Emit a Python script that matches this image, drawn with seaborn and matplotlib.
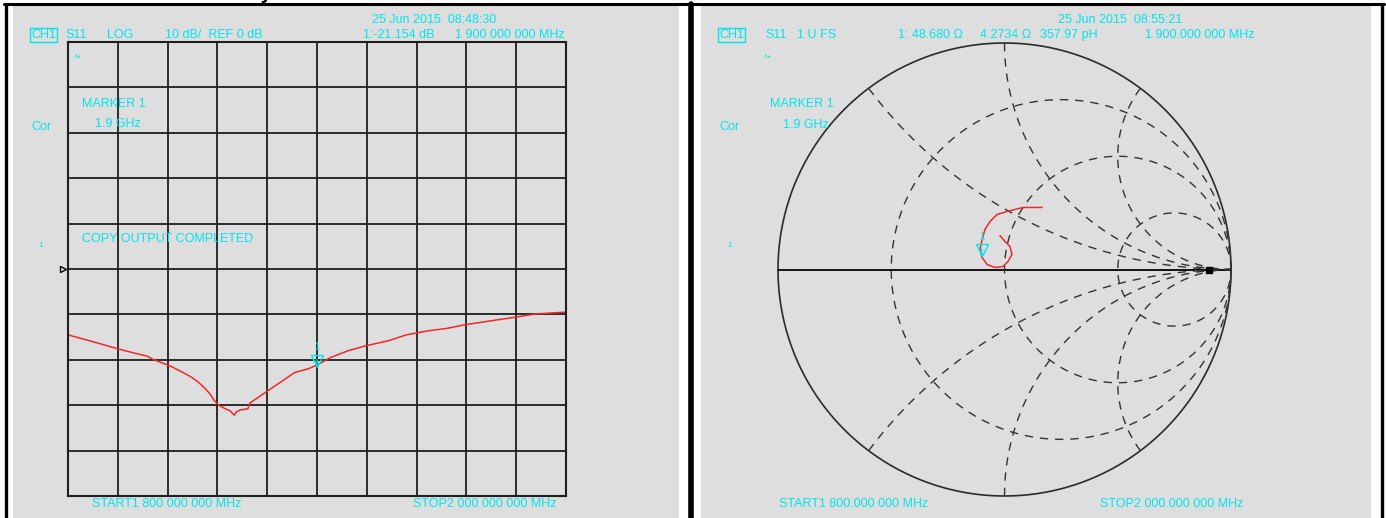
import numpy as np
import pandas as pd
import matplotlib
matplotlib.use("Agg")
import matplotlib.pyplot as plt
import matplotlib.transforms as mtransforms
from matplotlib.patches import Rectangle
from matplotlib.lines import Line2D
import seaborn as sns

# S11 log magnitude, 1.8 - 2.0 GHz
freq_mhz = [1800, 1808.6, 1820.2, 1826.5, 1831.9, 1834.5, 1840.8, 1846.2, 1849.8,
            1852.5, 1855.2, 1857.0, 1858.8, 1860.6, 1863.2, 1865.0, 1866.8, 1867.7,
            1869.5, 1872.2, 1873.1, 1875.8, 1880.3, 1885.7, 1891.0, 1896.4, 1900.0,
            1905.4, 1912.5, 1919.7, 1928.7, 1935.9, 1944.8, 1952.0, 1959.2, 1969.9,
            1979.8, 1987.8, 2000.0]
s11_db = [-14.5, -15.8, -17.6, -18.5, -19.2, -20.0, -21.3, -22.8, -23.9,
          -25.0, -26.4, -27.5, -29.0, -30.0, -30.8, -31.2, -32.2, -31.4,
          -31.0, -30.8, -29.5, -28.5, -26.8, -24.8, -22.8, -22.0, -21.154,
          -19.5, -18.0, -16.9, -15.8, -14.5, -13.6, -13.1, -12.3, -11.4,
          -10.6, -9.9, -9.5]
marker_mhz = 1900.0
marker_db = -21.154

# S11 on the Smith chart (reflection coefficient, real / imag)
gamma_re = [0.166, 0.082, 0.011, -0.033, -0.064, -0.086, -0.099, -0.108, -0.099,
            -0.077, -0.042, -0.007, 0.015, 0.033, 0.024, 0.002, -0.020]
gamma_im = [0.274, 0.274, 0.256, 0.243, 0.212, 0.177, 0.132, 0.088, 0.053,
            0.022, 0.009, 0.013, 0.035, 0.066, 0.102, 0.124, 0.150]
smith_marker = (-0.100, 0.065)
smith_dot = (0.905, 0.0)

# grid values
r_values = [1 / 3, 1, 3]
x_values = [0.5, 1, 2, -0.5, -1, -2]

# ---------------- style ----------------
sns.set_style("white")
plt.rcParams['font.family'] = ['Liberation Sans', 'DejaVu Sans']
CYAN = '#00E5EE'
RED = '#F02828'
GRAY_BG = '#DEDEDE'
GRID = '#1E1E1E'
FS = 9

W, H = 1386, 518
fig = plt.figure(figsize=(W / 100, H / 100), dpi=100)
fig.patch.set_facecolor('white')


def frect(x0, y0, x1, y1):
    """pixel box (top-left origin) -> figure fraction [l, b, w, h]"""
    return [x0 / W, 1 - y1 / H, (x1 - x0) / W, (y1 - y0) / H]


def ftext(x, y, s, size=FS, ha='left', **kw):
    fig.text(x / W, 1 - y / H, s, ha=ha, va='center', color=CYAN, fontsize=size, **kw)


# panel backgrounds and borders
for x0, x1 in [(13, 679), (701, 1371)]:
    fig.add_artist(Rectangle((x0 / W, 0), (x1 - x0) / W, 1 - 6 / H,
                             transform=fig.transFigure, facecolor=GRAY_BG,
                             edgecolor='none', zorder=0))
for xa, xb, ya, yb, lw in [(4, 1384, 4, 4, 2.2), (5.5, 5.5, 4, 518, 2.4),
                          (690.5, 690.5, 4, 518, 4.0), (1381.5, 1381.5, 4, 518, 2.4)]:
    fig.add_artist(Line2D([xa / W, xb / W], [1 - ya / H, 1 - yb / H],
                          transform=fig.transFigure, color='black', lw=lw))
# descender of a caption that sits above the screenshot
fig.text(266 / W, 1 + 1 / H, 'y', ha='center', va='baseline', fontsize=13,
         fontweight='bold', color='black', family='DejaVu Sans')

# ---------------- left: log magnitude ----------------
ax1 = fig.add_axes(frect(68, 42, 566, 496))
ax1.set_facecolor('none')
df_log = pd.DataFrame({'MHz': freq_mhz, 'dB': s11_db})
sns.lineplot(data=df_log, x='MHz', y='dB', ax=ax1, color=RED, lw=1.1,
             sort=False, estimator=None)
ax1.set_xlim(1800, 2000)
ax1.set_ylim(-50, 50)
ax1.set_xticks(np.arange(1800, 2001, 20))
ax1.set_yticks(np.arange(-50, 51, 10))
ax1.grid(True, color=GRID, lw=1.3)
ax1.tick_params(length=0, labelbottom=False, labelleft=False)
ax1.set_xlabel('')
ax1.set_ylabel('')
for sp in ax1.spines.values():
    sp.set_color(GRID)
    sp.set_linewidth(1.5)

# reference position arrow at 0 dB
off = mtransforms.ScaledTranslation(-5 / 100, 0, fig.dpi_scale_trans)
ax1.plot([1800], [0], marker='>', ms=5, mfc='none', mec='black', mew=1,
         transform=ax1.transData + off, clip_on=False)
# marker 1
up = mtransforms.ScaledTranslation(0, 4.5 / 100, fig.dpi_scale_trans)
ax1.plot([marker_mhz], [marker_db], marker='v', ms=8, mfc='none', mec=CYAN, mew=1,
         transform=ax1.transData + up, clip_on=False)
ax1.annotate('1', xy=(marker_mhz, marker_db), xytext=(0, 13), textcoords='offset points',
             ha='center', va='center', color=CYAN, fontsize=7,
             arrowprops=dict(arrowstyle='-', color=CYAN, lw=1, shrinkA=3, shrinkB=8))

ftext(434, 20, '25 Jun 2015  08:48:30', ha='center')
ftext(31, 35, 'CH1', bbox=dict(boxstyle='square,pad=0.1', fc='none', ec=CYAN, lw=1))
ftext(65, 35, 'S11')
ftext(107, 35, 'LOG')
ftext(165, 35, '10 dB/  REF 0 dB')
ftext(363, 35, '1:-21.154 dB')
ftext(455, 35, '1 900 000 000 MHz')
ftext(74, 58, '^*', size=6.5)
ftext(82, 104, 'MARKER 1')
ftext(95, 124, '1.9 GHz')
ftext(31, 127, 'Cor')
ftext(82, 239, 'COPY OUTPUT COMPLETED')
ftext(38, 246, '1', size=6)
ftext(92, 504, 'START1 800 000 000 MHz')
ftext(413, 504, 'STOP2 000 000 000 MHz')

# ---------------- right: Smith chart ----------------
ax2 = fig.add_axes(frect(778, 43, 1231, 496))
ax2.set_xlim(-1, 1)
ax2.set_ylim(-1, 1)
ax2.set_aspect('equal')
ax2.axis('off')

t = np.linspace(0, 2 * np.pi, 721)
ax2.plot(np.cos(t), np.sin(t), color='#2A2A2A', lw=1.2, clip_on=False)
ax2.plot([-1, 1], [0, 0], color='#111111', lw=1.4, clip_on=False)
dash = (0, (6, 5))
for r in r_values:
    cx, rad = r / (1 + r), 1 / (1 + r)
    ax2.plot(cx + rad * np.cos(t), rad * np.sin(t), color='#333333', lw=1,
             ls=dash, clip_on=False)
rr = np.concatenate([np.linspace(0, 1, 300), np.logspace(0, 3, 300)[1:]])
for xv in x_values:
    g = (rr + 1j * xv - 1) / (rr + 1j * xv + 1)
    ax2.plot(g.real, g.imag, color='#333333', lw=1, ls=dash, clip_on=False)

df_smith = pd.DataFrame({'re': gamma_re, 'im': gamma_im})
sns.lineplot(data=df_smith, x='re', y='im', ax=ax2, color=RED, lw=1.1,
             sort=False, estimator=None)
ax2.plot([smith_dot[0]], [smith_dot[1]], marker='s', ms=4, color='black', clip_on=False)
ax2.plot([smith_marker[0]], [smith_marker[1]], marker='v', ms=8, mfc='none', mec=CYAN,
         mew=1, transform=ax2.transData + up, clip_on=False)
ax2.annotate('1', xy=smith_marker, xytext=(0, 13), textcoords='offset points',
             ha='center', va='center', color=CYAN, fontsize=7,
             arrowprops=dict(arrowstyle='-', color=CYAN, lw=1, shrinkA=3, shrinkB=8))
ax2.set_xlabel('')
ax2.set_ylabel('')

ftext(1120, 20, '25 Jun 2015  08:55:21', ha='center')
ftext(719, 35, 'CH1', bbox=dict(boxstyle='square,pad=0.1', fc='none', ec=CYAN, lw=1))
ftext(765, 35, 'S11')
ftext(797, 35, '1 U FS')
ftext(898, 35, '1: 48.680 \u03a9')
ftext(980, 35, '4.2734 \u03a9')
ftext(1040, 35, '357.97 pH')
ftext(1145, 35, '1 900.000 000 MHz')
ftext(764, 58, '^*', size=6.5)
ftext(770, 104, 'MARKER 1')
ftext(783, 125, '1.9 GHz')
ftext(719, 127, 'Cor')
ftext(727, 246, '1', size=6)
ftext(779, 504, 'START1 800.000 000 MHz')
ftext(1100, 504, 'STOP2 000.000 000 MHz')

fig.savefig('out.png', dpi=100, facecolor='white')
